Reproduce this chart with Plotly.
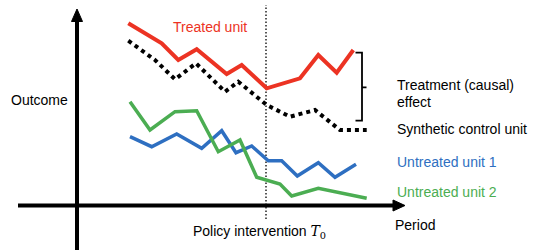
import plotly.graph_objects as go

# ---- data (period, outcome) ----
treated_t = [5.13, 8.47, 10.13, 11.97, 14.97, 16.47, 18.97, 22.3, 24.13, 25.97, 27.63]
treated_v = [18.22, 16.22, 14.55, 15.62, 13.15, 14.05, 11.72, 12.72, 15.05, 13.28, 15.55]

synth_t = [5.13, 7.8, 9.8, 11.9, 14.8, 16.13, 18.97, 21.3, 23.8, 26.3, 28.97]
synth_v = [16.48, 14.55, 12.62, 14.22, 11.38, 12.38, 10.05, 8.88, 9.55, 7.55, 7.55]

untreated1_t = [5.3, 7.47, 9.97, 12.47, 14.47, 15.9, 17.47, 19.13, 20.47, 22.03, 24.13, 25.8, 27.9]
untreated1_v = [6.88, 5.88, 7.15, 5.72, 7.48, 5.28, 5.95, 4.48, 4.48, 2.95, 4.28, 2.82, 4.12]

untreated2_t = [5.3, 7.3, 9.8, 11.97, 14.13, 16.3, 17.97, 20.3, 21.47, 24.13, 28.97]
untreated2_v = [10.38, 7.55, 9.38, 9.48, 5.38, 6.55, 2.82, 2.15, 0.95, 1.72, 0.72]

T0 = 18.9

RED = "#ec3323"
BLUE = "#2e6fc1"
GREEN = "#4bad52"
FONT = "Liberation Sans, Arial, sans-serif"

fig = go.Figure()
fig.add_trace(go.Scatter(x=treated_t, y=treated_v, mode="lines",
                         line=dict(color=RED, width=4), name="Treated unit"))
fig.add_trace(go.Scatter(x=synth_t, y=synth_v, mode="lines",
                         line=dict(color="black", width=4, dash="4px,4px"),
                         name="Synthetic control unit"))
fig.add_trace(go.Scatter(x=untreated1_t, y=untreated1_v, mode="lines",
                         line=dict(color=BLUE, width=3.5), name="Untreated unit 1"))
fig.add_trace(go.Scatter(x=untreated2_t, y=untreated2_v, mode="lines",
                         line=dict(color=GREEN, width=3.5), name="Untreated unit 2"))

shapes = []
# intervention line
shapes.append(dict(type="line", x0=T0, x1=T0, y0=-1.35, y1=20.05, xref="x", yref="y",
                   line=dict(color="black", width=1.3, dash="1.5px,2px"), layer="below"))
# axes
shapes.append(dict(type="line", x0=0, x1=0, y0=-5, y1=18.5, line=dict(color="black", width=4)))
shapes.append(dict(type="line", x0=-5.9, x1=31.7, y0=0, y1=0, line=dict(color="black", width=4)))
shapes.append(dict(type="path", path="M -0.55 18.4 L 0 19.65 L 0.55 18.4 Z",
                   fillcolor="black", line=dict(color="black", width=1)))
shapes.append(dict(type="path", path="M 31.6 0.55 L 32.8 0 L 31.6 -0.55 Z",
                   fillcolor="black", line=dict(color="black", width=1)))
# bracket
shapes.append(dict(type="path",
                   path="M 27.85 15.28 L 28.5 15.28 L 28.5 8.48 L 27.85 8.48 M 28.5 11.82 L 28.95 11.82",
                   line=dict(color="black", width=1.8)))

def ann(text, x, y, color="black", xanchor="left", size=14):
    return dict(text=text, x=x, y=y, xref="x", yref="y", showarrow=False,
                xanchor=xanchor, yanchor="middle",
                font=dict(family=FONT, size=size, color=color))

annotations = [
    ann("Treated unit", 13.3, 17.88, RED, "center"),
    ann("Outcome", -0.7, 10.55, "black", "right"),
    ann("Treatment (causal)", 31.8, 12.05),
    ann("effect", 31.8, 10.38),
    ann("Synthetic control unit", 31.8, 7.62),
    ann("Untreated unit 1", 31.8, 4.38, BLUE),
    ann("Untreated unit 2", 31.8, 1.38, GREEN),
    ann("Period", 31.6, -1.95),
    ann("Policy intervention <span style=\"font-family:'DejaVu Serif',serif\"><i>T</i><sub>0</sub></span>",
        18.2, -2.68, "black", "center"),
]

fig.update_layout(
    width=545, height=250,
    margin=dict(l=0, r=0, t=0, b=0),
    paper_bgcolor="white", plot_bgcolor="white",
    showlegend=False,
    xaxis=dict(range=[-7.7, 46.8], visible=False, fixedrange=True),
    yaxis=dict(range=[-4.45, 20.55], visible=False, fixedrange=True),
    shapes=shapes, annotations=annotations,
)

fig.write_html("out.html", config={"displayModeBar": False, "staticPlot": True},
               post_script="document.body.style.margin='0';document.body.style.overflow='hidden';")
